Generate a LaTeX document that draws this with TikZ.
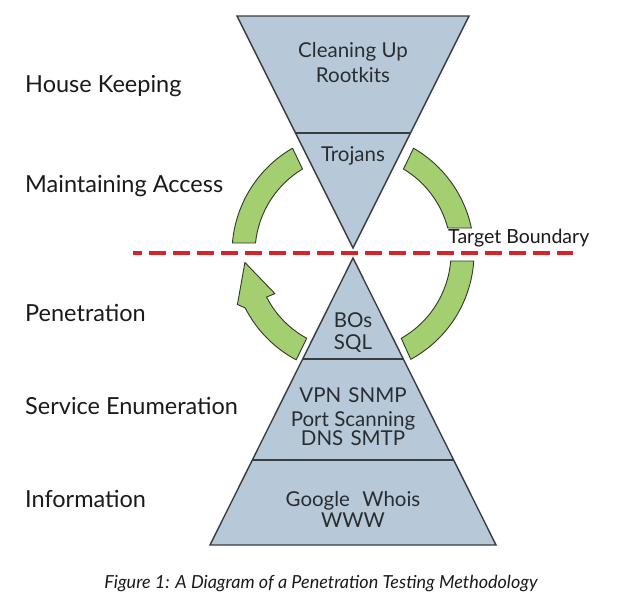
\documentclass[tikz,border=0pt]{standalone}
\usepackage{fontspec}
\setmainfont{Lato}
\definecolor{triblue}{HTML}{B7C9D9}
\definecolor{edgegray}{HTML}{3A3D40}
\definecolor{ringgreen}{HTML}{A3CF70}
\definecolor{ringedge}{HTML}{2F3A28}
\definecolor{dashred}{HTML}{D7222A}
\definecolor{labelblack}{HTML}{1A1A1A}
\definecolor{intextgray}{HTML}{2A2D30}
\begin{document}
\begin{tikzpicture}[x=1pt,y=-1pt,
  tri/.style={fill=triblue, draw=edgegray, line width=1.4pt, line join=miter},
  divider/.style={draw=edgegray, line width=1.4pt},
  ring/.style={fill=ringgreen, draw=ringedge, line width=0.9pt, line join=round},
  dashline/.style={draw=dashred, line width=4pt, dash pattern=on 17pt off 7pt, dash phase=8pt},
  stage/.style={anchor=base west, font=\fontsize{23.5}{26}\selectfont, text=labelblack, inner sep=0pt},
  intext/.style={anchor=base, font=\fontsize{20.5}{23}\selectfont, text=intextgray, inner sep=0pt},
  boundary/.style={anchor=base west, font=\fontsize{19.5}{22}\selectfont, text=labelblack, inner sep=0pt},
  caption/.style={anchor=base, font=\itshape\fontsize{18}{20}\selectfont, text=labelblack, inner sep=0pt}
]
\useasboundingbox (0,0) rectangle (623,605);
\fill[white] (0,0) rectangle (623,605);

% green cycle
\begin{scope}[shift={(353,253)}, yscale=-1]
  % top-left
  \path[ring] (120:121) arc[start angle=120, end angle=175.26, radius=121]
    -- (174.14:98) arc[start angle=174.14, end angle=121, radius=98] -- cycle;
  % top-right
  \path[ring] (60:121) arc[start angle=60, end angle=11.92, radius=121]
    -- (14.78:98) arc[start angle=14.78, end angle=59, radius=98] -- cycle;
  % bottom-right
  \path[ring] (-3.79:121) arc[start angle=-3.79, end angle=-61.5, radius=121]
    -- (-60.5:98) arc[start angle=-60.5, end angle=-4.68, radius=98] -- cycle;
  % bottom-left with arrow head
  \path[ring] (242:121) arc[start angle=242, end angle=207, radius=121]
    -- (204:126.5) -- (185:108.5) -- (207.5:88) -- (207:97)
    arc[start angle=207, end angle=241.5, radius=97] -- cycle;
\end{scope}

% triangles
\path[tri] (237,16) -- (469,16) -- (353,248) -- cycle;
\draw[divider] (295.5,133) -- (410.5,133);
\path[tri] (353,258) -- (496,545) -- (210,545) -- cycle;
\draw[divider] (302.7,359) -- (403.3,359);
\draw[divider] (252.4,460) -- (453.6,460);

% texts in triangles
\node[intext] (clean) at (353,57) {Cleaning Up};
\node[intext] (root) at (353,82) {Rootkits};
\node[intext] (troj) at (353,161) {Trojans};
\node[intext] (bos) at (353,327) {BOs};
\node[intext] (sql) at (353,349) {SQL};
\node[intext] (vpn) at (353,402) {VPN\hspace{0.35em}SNMP};
\node[intext] (port) at (353,426) {Port Scanning};
\node[intext] (dns) at (353,445) {DNS\hspace{0.35em}SMTP};
\node[intext] (goog) at (353,506) {Google\hspace{0.6em}Whois};
\node[intext] (www) at (353,527) {WWW};

% boundary
\node[boundary] (tb) at (448,243) {Target Boundary};
\coordinate (dl) at (133,253);
\coordinate (dr) at (573,253);
\draw[dashline] (dl) -- (dr);

% stage labels
\node[stage] (hk) at (25,92) {House Keeping};
\node[stage] (ma) at (25,192) {Maintaining Access};
\node[stage] (pe) at (25,321) {Penetration};
\node[stage] (se) at (25,414) {Service Enumeration};
\node[stage] (in) at (25,507) {Information};

% caption
\node[caption] (cap) at (321,588) {Figure 1: A Diagram of a Penetration Testing Methodology};
\end{tikzpicture}
\end{document}
